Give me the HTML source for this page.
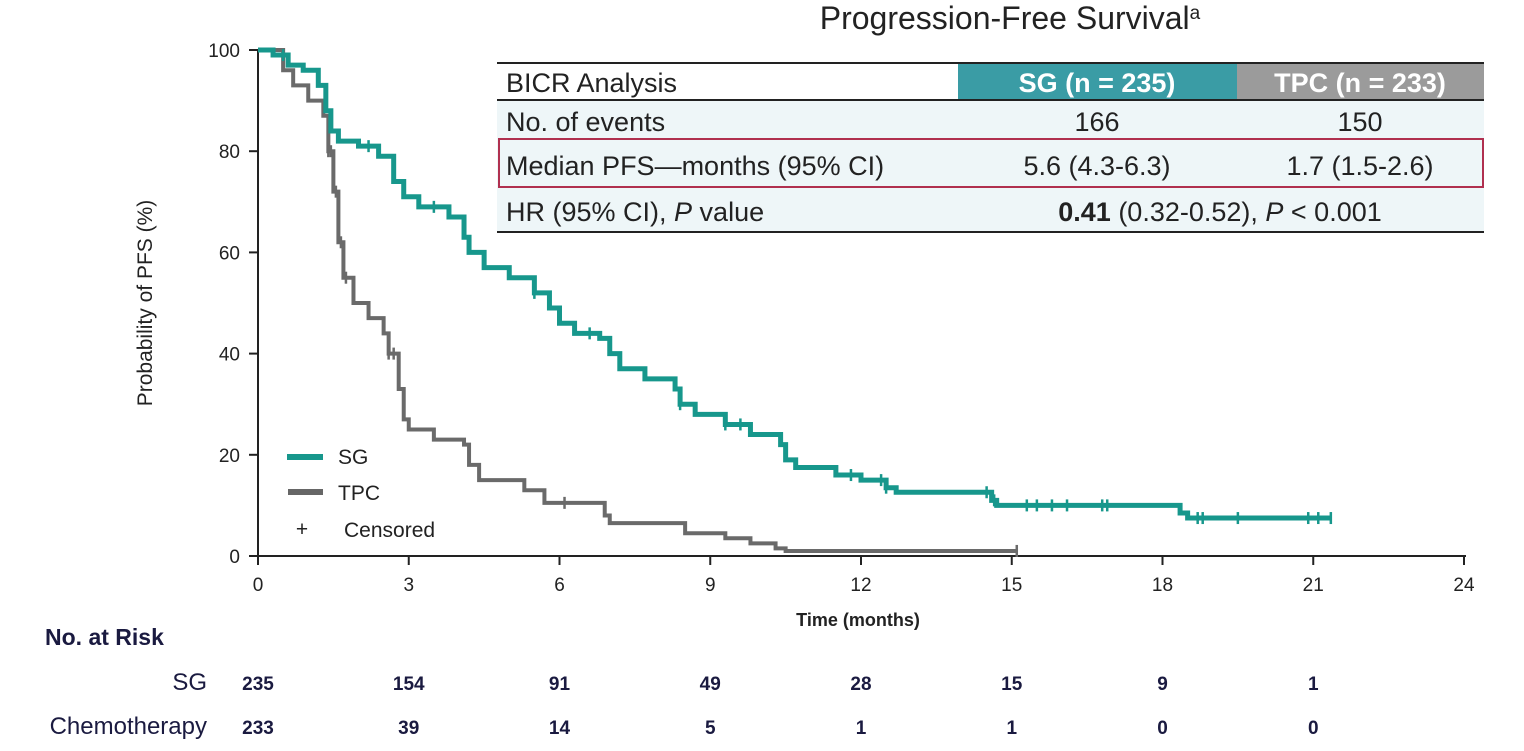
<!DOCTYPE html>
<html><head><meta charset="utf-8"><style>
body{margin:0;background:#fff;width:1524px;height:746px;overflow:hidden;font-family:"Liberation Sans",sans-serif}
</style></head><body>
<svg id="chart" width="1524" height="746" xmlns="http://www.w3.org/2000/svg" font-family="Liberation Sans, DejaVu Sans, sans-serif">
<text x="1010" y="29" font-size="32" text-anchor="middle" fill="#222">Progression-Free Survival<tspan font-size="19" dy="-10">a</tspan></text>
<g>
<rect x="497" y="100" width="987" height="132" fill="#eef6f8"/>
<rect x="958" y="63" width="279" height="37" fill="#3a9ca5"/>
<rect x="1237" y="63" width="247" height="37" fill="#9b9b9b"/>
<line x1="497" y1="63" x2="1484" y2="63" stroke="#222" stroke-width="2"/>
<line x1="497" y1="100" x2="1484" y2="100" stroke="#222" stroke-width="2"/>
<line x1="497" y1="232" x2="1484" y2="232" stroke="#222" stroke-width="2"/>
<rect x="499" y="139" width="984" height="48" fill="none" stroke="#b0304f" stroke-width="2"/>
<g font-size="27" fill="#222">
<text x="506" y="92">BICR Analysis</text>
<text x="1097" y="92" text-anchor="middle" fill="#fff" font-weight="bold">SG (n = 235)</text>
<text x="1360" y="92" text-anchor="middle" fill="#fff" font-weight="bold">TPC (n = 233)</text>
<text x="506" y="131">No. of events</text>
<text x="1097" y="131" text-anchor="middle">166</text>
<text x="1360" y="131" text-anchor="middle">150</text>
<text x="506" y="175">Median PFS—months (95% CI)</text>
<text x="1097" y="175" text-anchor="middle">5.6 (4.3-6.3)</text>
<text x="1360" y="175" text-anchor="middle">1.7 (1.5-2.6)</text>
<text x="506" y="221">HR (95% CI), <tspan font-style="italic">P</tspan> value</text>
<text x="1220" y="221" text-anchor="middle"><tspan font-weight="bold">0.41</tspan> (0.32-0.52), <tspan font-style="italic">P</tspan> &lt; 0.001</text>
</g></g>
<g id="axes"></g>
<g id="plot"></g>
<text transform="translate(152,303) rotate(-90)" font-size="21" text-anchor="middle" fill="#222">Probability of PFS (%)</text>
<text x="858" y="626" font-size="18" font-weight="bold" text-anchor="middle" fill="#222">Time (months)</text>
<g font-size="21" fill="#222">
<line x1="287" y1="457" x2="323" y2="457" stroke="#17978c" stroke-width="6"/><text x="338" y="464">SG</text>
<line x1="288" y1="492" x2="323" y2="492" stroke="#666" stroke-width="6"/><text x="338" y="500">TPC</text>
<text x="302" y="536" text-anchor="middle" font-size="21">+</text><text x="344" y="537">Censored</text>
</g>
<g fill="#1a1a40" font-weight="bold">
<text x="45" y="645" font-size="23">No. at Risk</text>
<text x="207" y="690" font-size="24" text-anchor="end" font-weight="normal">SG</text>
<text x="207" y="734" font-size="24" text-anchor="end" font-weight="normal">Chemotherapy</text>
<g id="risk"></g>
</g>
</svg>
<script>
const sgTimes=[0,0.3,0.6,0.9,1.2,1.35,1.45,1.6,2.0,2.4,2.7,2.9,3.2,3.8,4.1,4.2,4.5,5.0,5.5,5.8,6.0,6.3,6.8,7.0,7.2,7.7,8.3,8.4,8.7,9.3,9.8,10.4,10.5,10.7,11.5,12.0,12.5,12.7,14.6,14.7,18.35,18.5];
const sgSurv=[100,99,97,96,93,88,84,82,81,79,74,71,69,67,63,60,57,55,52,49,46,44,43,40,37,35,33,30,28,26,24,22,19,17.5,16,15,13.5,12.6,11,10,8.5,7.5];
const sgEnd=21.35;
const sgCensor=[0.5,2.2,3.5,5.5,6.6,8.4,9.3,9.6,11.8,12.4,12.5,14.5,14.65,15.3,15.5,15.8,16.1,16.8,16.9,18.7,18.8,19.5,20.9,21.1,21.35];
const tpcTimes=[0,0.5,0.7,1.0,1.3,1.4,1.5,1.6,1.7,1.9,2.2,2.5,2.6,2.8,2.9,3.0,3.5,4.1,4.2,4.4,5.3,5.7,6.9,7.0,8.5,9.3,9.8,10.3,10.5];
const tpcSurv=[100,96,93,90,87,80,72,62,55,50,47,44,40,33,27,25,23,22,18,15,13,10.5,8,6.5,4.5,3.5,2.5,1.5,1];
const tpcEnd=15.1;
const tpcCensor=[1.4,1.45,1.55,1.65,1.75,2.6,2.7,6.1,15.1];
const xTicks=[0,3,6,9,12,15,18,21,24];
const yTicks=[0,20,40,60,80,100];
const riskSG=[235,154,91,49,28,15,9,1];
const riskChemo=[233,39,14,5,1,1,0,0];
const X=t=>258+t*50.25, Y=p=>556-p*5.06;
const NS='http://www.w3.org/2000/svg';
function mk(tag,attrs,parent){const e=document.createElementNS(NS,tag);for(const k in attrs)e.setAttribute(k,attrs[k]);parent.appendChild(e);return e;}
const axes=document.getElementById('axes'),plot=document.getElementById('plot'),risk=document.getElementById('risk');
const xa=mk('line',{x1:258,y1:556,x2:1466,y2:556,stroke:'#222','stroke-width':2},axes);


const ya=mk('line',{x1:258,y1:49,x2:258,y2:557,stroke:'#222','stroke-width':2},axes);


xTicks.forEach(t=>{mk('line',{x1:X(t),y1:556,x2:X(t),y2:565,stroke:'#222','stroke-width':2},axes);
const tx=mk('text',{x:X(t),y:591,'font-size':19,'text-anchor':'middle',fill:'#222'},axes);tx.textContent=t;

});
yTicks.forEach(v=>{mk('line',{x1:249,y1:Y(v),x2:258,y2:Y(v),stroke:'#222','stroke-width':2},axes);
const tx=mk('text',{x:240,y:Y(v)+7,'font-size':19,'text-anchor':'end',fill:'#222'},axes);tx.textContent=v;

});
function survAt(times,surv,t){let s=surv[0];for(let i=0;i<times.length;i++){if(times[i]<=t)s=surv[i];}return s;}
function curve(times,surv,end,cens,color,w,name){
 let d='M'+X(times[0])+','+Y(surv[0]);
 for(let i=1;i<times.length;i++){d+=' H'+X(times[i])+' V'+Y(surv[i]);}
 d+=' H'+X(end);
 const p=mk('path',{d:d,fill:'none',stroke:color,'stroke-width':w},plot);
 
 
 cens.forEach(c=>{const y=Y(survAt(times,surv,c));
  const m=mk('line',{x1:X(c),y1:y-6,x2:X(c),y2:y+6,stroke:color,'stroke-width':2.5},plot);
  
  });
}
curve(tpcTimes,tpcSurv,tpcEnd,tpcCensor,'#6a6a6a',4,'tpc');
curve(sgTimes,sgSurv,sgEnd,sgCensor,'#17978c',5,'sg');
riskSG.forEach((v,i)=>{const t=mk('text',{x:X(xTicks[i]),y:690,'font-size':19,'text-anchor':'middle'},risk);t.textContent=v;

});
riskChemo.forEach((v,i)=>{const t=mk('text',{x:X(xTicks[i]),y:734,'font-size':19,'text-anchor':'middle'},risk);t.textContent=v;

});
</script>
</body></html>
